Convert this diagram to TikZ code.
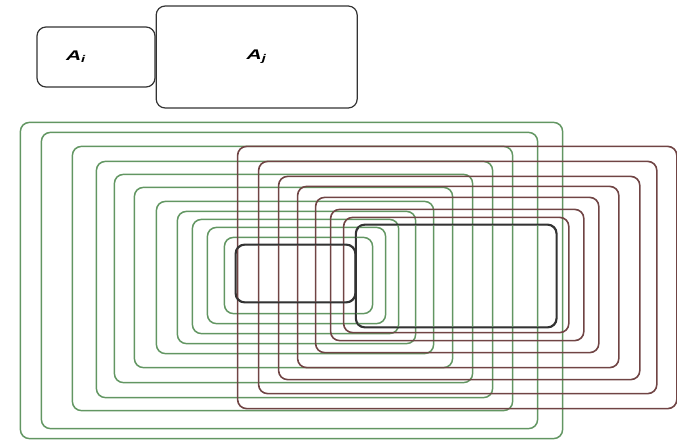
\documentclass[tikz,border=0pt]{standalone}
\usepackage{fontspec}
\setsansfont{Liberation Sans}
\usetikzlibrary{positioning}

\definecolor{ringgreen}{RGB}{98,150,98}
\definecolor{ringred}{RGB}{112,68,68}

\newcommand{\setname}[1]{\scalebox{1.5}[1]{A\textsubscript{#1}}}

\begin{document}
\begin{tikzpicture}[x=1pt, y=-1pt,
        every node/.style={font=\sffamily\bfseries\itshape\fontsize{14}{16}\selectfont},
        box/.style={draw=black!80, line width=1.2pt, rounded corners=9pt, inner sep=0pt},
        ringA/.style={draw=ringgreen, line width=1.5pt, rounded corners=9pt},
        ringB/.style={draw=ringred, line width=1.6pt, rounded corners=9pt},
        node distance=0pt
    ]
    \useasboundingbox (0,0) rectangle (677,442);

    % the two sets on top
    \node[box, minimum width=118pt, minimum height=60pt, text width=60pt, align=left] (ai) at (96,57) {\setname{i}};
    \node[box, minimum width=201pt, minimum height=102pt, right=of ai] (aj) {\setname{j}};

    % the same two sets, grown step by step
    \node[box, minimum width=119pt, minimum height=57pt] (bi) at (295.5,273.5) {};
    \node[box, minimum width=200pt, minimum height=102pt, right=of bi, yshift=-2.5pt] (bj) {};

    \foreach \dl/\dt/\dr/\db in {11/7/17/11, 28/17/30/21, 43/25/43/31, 58/33/60/41,
            79/43/78/51, 101/57/97/65, 121/70/117/80, 139/83/137/95,
            163/98/157/108, 194/112/182/126, 215/122/207/136}
        \draw[ringA] ([xshift=-\dl pt, yshift=\dt pt]bi.north west)
            rectangle ([xshift=\dr pt, yshift=-\db pt]bi.south east);

    \foreach \dl/\dt/\dr/\db in {12/7/12/5, 25/15/27/13, 40/27/42/25, 58/38/62/40,
            77/48/83/52, 97/63/100/66, 118/78/120/81}
        \draw[ringB] ([xshift=-\dl pt, yshift=\dt pt]bj.north west)
            rectangle ([xshift=\dr pt, yshift=-\db pt]bj.south east);

    % redraw the cores on top
    \draw[box, line width=1.6pt] (bi.north west) rectangle (bi.south east);
    \draw[box, line width=1.6pt] (bj.north west) rectangle (bj.south east);
\end{tikzpicture}
\end{document}
